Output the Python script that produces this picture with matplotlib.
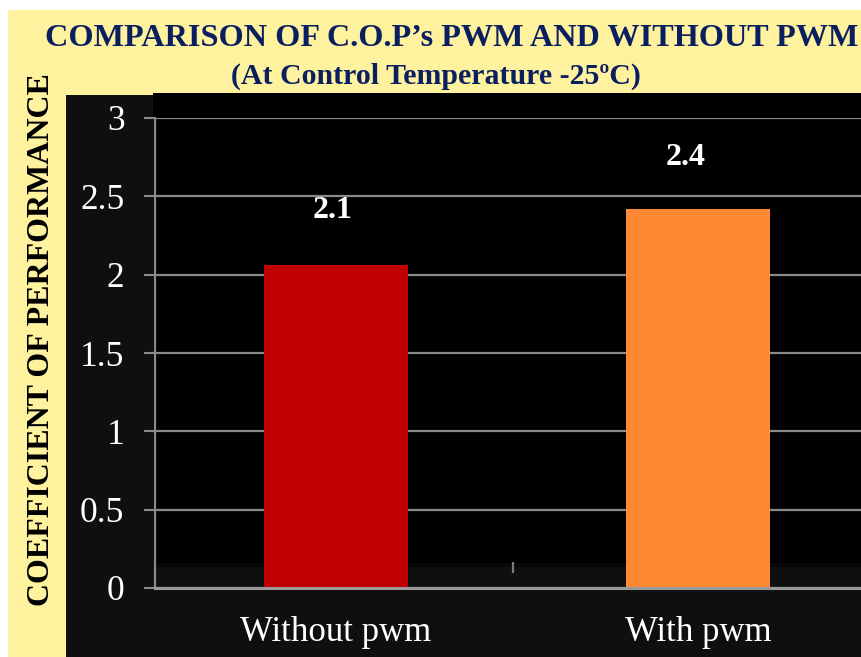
import matplotlib
matplotlib.use("Agg")
import matplotlib.pyplot as plt
from matplotlib.patches import Rectangle

categories = ["Without pwm", "With pwm"]
cop_values = [2.06, 2.42]
value_labels = ["2.1", "2.4"]
bar_colors = ["#C00000", "#FF8833"]
yticks = [0, 0.5, 1, 1.5, 2, 2.5, 3]
ytick_labels = ["0", "0.5", "1", "1.5", "2", "2.5", "3"]

W, H = 862, 657
fig = plt.figure(figsize=(W / 100, H / 100), dpi=100, facecolor="white")
plt.rcParams["font.family"] = ["Liberation Serif", "DejaVu Serif"]

def px_rect(x0, y0, x1, y1, color, z):
    r = Rectangle((x0 / W, 1 - y1 / H), (x1 - x0) / W, (y1 - y0) / H,
                  transform=fig.transFigure, facecolor=color, edgecolor="none", zorder=z)
    fig.add_artist(r)

# backgrounds
px_rect(8, 10, 862, 657, "#FFF29E", -5)
px_rect(66, 95, 862, 657, "#0F0F0F", -4)
px_rect(153, 93, 862, 563, "#000000", -3)
px_rect(153, 563, 862, 567, "#080808", -3)

left = 155 / W
bottom = 1 - 588 / H
top = 1 - 118 / H
ax = fig.add_axes([left, bottom, 1 - left, top - bottom])
ax.set_facecolor("none")

x = list(range(len(categories)))
ax.bar(x, cop_values, width=0.4, color=bar_colors, zorder=3)
ax.set_xlim(-0.5, (W - 155) / 362 - 0.5)
ax.set_ylim(0, 3)

for xi, v, lab, dx, dy in zip(x, cop_values, value_labels, [-0.01, -0.035], [0.35, 0.33]):
    ax.text(xi + dx, v + dy, lab, ha="center", va="center", color="white",
            fontsize=23, fontweight="bold", zorder=4)

ax.set_yticks(yticks)
ax.set_yticklabels(ytick_labels)
ax.yaxis.grid(True, color="#8A8A8A", linewidth=1.6, zorder=1)
ax.set_axisbelow(True)
ax.set_xticks(x)
ax.set_xticklabels(categories)
ax.tick_params(axis="y", colors="#8A8A8A", labelcolor="white", labelsize=25.5,
               length=8, width=1.5, direction="out", pad=14)
ax.tick_params(axis="x", labelcolor="white", labelsize=25, length=0, pad=20)

for s in ["top", "right"]:
    ax.spines[s].set_visible(False)
ax.spines["left"].set_color("#8A8A8A")
ax.spines["left"].set_linewidth(1.6)
ax.spines["bottom"].set_color("#9A9A9A")
ax.spines["bottom"].set_linewidth(2.2)
ax.spines["bottom"].set_zorder(5)

# floor tick marks
ax.vlines([-0.51, 0.49], 0.096, 0.166, color="#7A7A7A", linewidth=1.6, zorder=2)

fig.text(452 / W, 1 - 38 / H, "COMPARISON OF C.O.P\u2019s PWM AND WITHOUT PWM",
         ha="center", va="center", color="#0A1F5F", fontsize=23.2, fontweight="bold")
fig.text(436 / W, 1 - 76 / H, "(At Control Temperature -25\u00baC)",
         ha="center", va="center", color="#0A1F5F", fontsize=21.5, fontweight="bold")
fig.text(42 / W, 1 - 340 / H, "COEFFICIENT OF PERFORMANCE", rotation=90,
         ha="center", va="center", color="black", fontsize=23, fontweight="bold")

fig.savefig("out.png", dpi=100, facecolor="white")
